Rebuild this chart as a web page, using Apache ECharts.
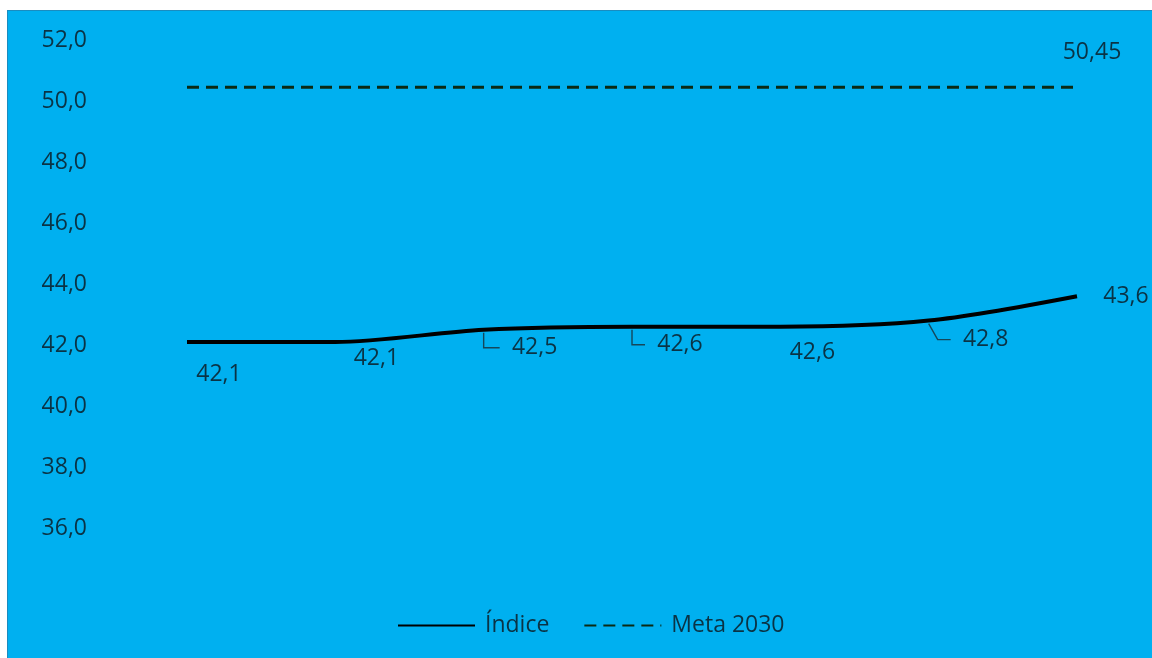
<!DOCTYPE html>
<html>
<head>
<meta charset="utf-8">
<script src="https://cdn.jsdelivr.net/npm/echarts@6/dist/echarts.min.js"></script>
<style>
	html, body { margin: 0; padding: 0; background: #fff; }
	#fundo {
		position: absolute; left: 7px; top: 10px; width: 1145px; height: 648px;
		background: #00B0F0; border-left: 1px solid #1a8cc0; border-top: 1px solid #1a8cc0;
		box-sizing: border-box;
	}
	#main { position: absolute; left: 0; top: 0; width: 1152px; height: 658px; }
</style>
</head>
<body>
<div id="fundo"></div>
<div id="main"></div>
<script>
// anos (eixo x oculto no gráfico)
var categorias = ['1', '2', '3', '4', '5', '6', '7'];
// valores do índice
var indice = [42.1, 42.1, 42.5, 42.6, 42.6, 42.8, 43.6];
// meta 2030
var meta = [50.45, 50.45, 50.45, 50.45, 50.45, 50.45, 50.45];
// rótulos do eixo y
var yMin = 36, yMax = 52, yInterval = 2;

var corTexto = '#0a3345';
var corChamada = '#15475a';
var fonte = '"Open Sans", "DejaVu Sans", sans-serif';
var tamFonte = 23;

// deslocamento dos rótulos de dados (centro do rótulo em relação ao ponto)
var desloc = [[32, 33], [41, 17], [51, 18], [48, 18], [32, 26], [57, 19], [49, 0]];
// rótulos com linha de chamada e inclinação do trecho vertical
var comLinha = [false, false, true, true, false, true, false];
var inclinacao = [0, 0, 0, 0, 0, 9, 0];

function virgula(v, casas) {
	return v.toFixed(casas).replace('.', ',');
}

var myChart = echarts.init(document.getElementById('main'));

// pontos que recebem linha de chamada
var dadosChamada = [];
for (var i = 0; i < indice.length; i++) {
	if (comLinha[i]) {
		dadosChamada.push([ i, indice[i] ]);
	}
}

var option = {
	backgroundColor : 'transparent',
	animation : false,
	grid : {
		left : 187,
		right : 75,
		top : 40,
		height : 488
	},
	legend : {
		left : 397,
		top : 614,
		padding : 0,
		itemWidth : 77,
		itemHeight : 14,
		itemGap : 34,
		itemStyle : { opacity : 0 },
		textStyle : {
			color : corTexto,
			fontSize : tamFonte,
			fontFamily : fonte,
			padding : [0, 0, 0, 5]
		},
		data : ['Índice', 'Meta 2030']
	},
	xAxis : {
		type : 'category',
		boundaryGap : false,
		data : categorias,
		show : false
	},
	yAxis : {
		type : 'value',
		min : yMin,
		max : yMax,
		interval : yInterval,
		axisLine : { show : false },
		axisTick : { show : false },
		splitLine : { show : false },
		axisLabel : {
			margin : 100,
			color : corTexto,
			fontSize : tamFonte,
			fontFamily : fonte,
			padding : [0, 0, 6, 0],
			formatter : function(v) {
				return virgula(v, 1);
			}
		}
	},
	series : [ {
		name : 'Índice',
		type : 'line',
		smooth : 0.3,
		symbol : 'circle',
		symbolSize : 0.1,
		data : indice,
		lineStyle : {
			color : '#000',
			width : 4
		},
		itemStyle : { color : '#000' },
		label : {
			show : true,
			position : 'inside',
			color : corTexto,
			fontSize : tamFonte,
			fontFamily : fonte,
			formatter : function(p) {
				return virgula(p.value, 1);
			}
		},
		labelLayout : function(p) {
			var d = desloc[p.dataIndex];
			return {
				dx : d[0],
				dy : d[1]
			};
		}
	}, {
		name : 'Meta 2030',
		type : 'line',
		symbol : 'circle',
		symbolSize : 0.1,
		data : meta,
		lineStyle : {
			color : '#0b2a14',
			width : 3,
			type : [12, 7]
		},
		itemStyle : { color : '#0b2a14' },
		label : {
			show : true,
			position : 'inside',
			offset : [15, -35],
			color : corTexto,
			fontSize : tamFonte,
			fontFamily : fonte,
			formatter : function(p) {
				return p.dataIndex == meta.length - 1 ? virgula(p.value, 2) : '';
			}
		}
	}, {
		// linhas de chamada dos rótulos
		name : 'chamada',
		type : 'custom',
		silent : true,
		data : dadosChamada,
		renderItem : function(params, api) {
			var idx = api.value(0);
			var pt = api.coord([ idx, api.value(1) ]);
			var d = desloc[idx];
			var cy = pt[1] + d[1];
			var esq = pt[0] + d[0] - 24;
			return {
				type : 'polyline',
				shape : {
					points : [ [ pt[0], pt[1] + 3 ], [ pt[0] + inclinacao[idx], cy ], [ esq - 11, cy ] ]
				},
				style : {
					stroke : corChamada,
					lineWidth : 1.4,
					fill : null
				}
			};
		}
	} ]
};
myChart.setOption(option);
</script>
</body>
</html>
